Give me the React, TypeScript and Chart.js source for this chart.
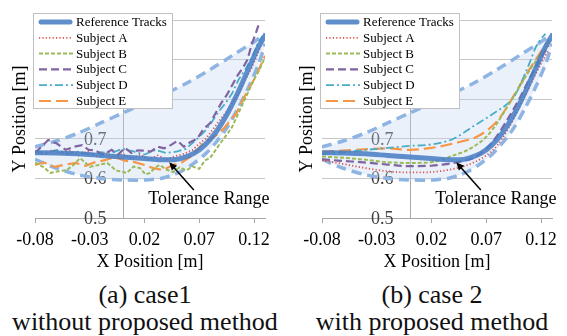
import React, { useEffect, useRef } from "react";
import { Chart, registerables } from "chart.js";

Chart.register(...registerables);

const FONT = '"Liberation Serif", "Times New Roman", serif';

// ---- axes ----
const X_MIN = -0.08;
const X_MAX = 0.13;
const Y_MIN = 0.5;
const Y_MAX = 1.0;
const X_TICKS = [-0.08, -0.03, 0.02, 0.07, 0.12];
const X_TICK_LABELS = ["-0.08", "-0.03", "0.02", "0.07", "0.12"];
const Y_TICKS = [0.5, 0.6, 0.7, 0.8, 0.9, 1.0];
const Y_TICK_LABELS = ["0.5", "0.6", "0.7", "0.8", "0.9", "1.0"];
const Y_AXIS_CROSS_X = 0;
const X_TITLE = "X Position [m]";
const Y_TITLE = "Y Position [m]";

// ---- reference track ----
const refX = [-0.08, -0.06, -0.04, -0.02, 0, 0.02, 0.035, 0.045, 0.055, 0.065, 0.075, 0.085, 0.095, 0.105, 0.115, 0.125, 0.13];
const refY = [0.665, 0.664, 0.662, 0.658, 0.654, 0.65, 0.647, 0.647, 0.652, 0.663, 0.684, 0.716, 0.76, 0.815, 0.877, 0.937, 0.96];

// ---- tolerance range ----
const tolUpperX = [-0.08, -0.06, -0.04, -0.02, 0, 0.02, 0.04, 0.06, 0.08, 0.1, 0.12, 0.13];
const tolUpperY = [0.68, 0.695, 0.715, 0.74, 0.765, 0.79, 0.815, 0.843, 0.875, 0.91, 0.945, 0.965];
const tolLowerX = [-0.08, -0.06, -0.04, -0.02, 0, 0.02, 0.035, 0.045, 0.055, 0.065, 0.075, 0.085, 0.095, 0.105, 0.115, 0.125, 0.13];
const tolLowerY = [0.648, 0.625, 0.609, 0.6, 0.596, 0.596, 0.6, 0.608, 0.62, 0.638, 0.66, 0.69, 0.727, 0.775, 0.83, 0.895, 0.94];

// ---- case 1 (without proposed method) ----
const c1AX = [-0.08, -0.072, -0.064, -0.056, -0.048, -0.04, -0.032, -0.024, -0.016, -0.008, 0, 0.008, 0.016, 0.024, 0.032, 0.04, 0.048, 0.056, 0.064, 0.07, 0.076, 0.082, 0.088, 0.094, 0.1, 0.106, 0.112, 0.118, 0.124, 0.128];
const c1AY = [0.668, 0.66, 0.672, 0.662, 0.67, 0.658, 0.668, 0.655, 0.665, 0.652, 0.662, 0.65, 0.66, 0.648, 0.658, 0.648, 0.656, 0.662, 0.672, 0.688, 0.7, 0.722, 0.745, 0.765, 0.79, 0.815, 0.85, 0.88, 0.92, 0.95];
const c1BX = [-0.08, -0.072, -0.066, -0.058, -0.051, -0.044, -0.039, -0.034, -0.03, -0.022, -0.014, -0.006, 0.004, 0.01, 0.016, 0.021, 0.025, 0.03, 0.034, 0.04, 0.046, 0.052, 0.058, 0.064, 0.07, 0.075, 0.08, 0.085, 0.09, 0.095, 0.1, 0.105, 0.11, 0.115, 0.12, 0.125, 0.129];
const c1BY = [0.64, 0.628, 0.614, 0.618, 0.621, 0.636, 0.651, 0.64, 0.629, 0.634, 0.639, 0.62, 0.614, 0.63, 0.626, 0.61, 0.614, 0.628, 0.634, 0.622, 0.616, 0.628, 0.62, 0.63, 0.624, 0.645, 0.652, 0.672, 0.692, 0.71, 0.73, 0.76, 0.79, 0.82, 0.85, 0.875, 0.9];
const c1CX = [-0.08, -0.074, -0.068, -0.06, -0.052, -0.044, -0.037, -0.031, -0.025, -0.018, -0.01, -0.004, 0.002, 0.008, 0.014, 0.02, 0.026, 0.032, 0.038, 0.044, 0.05, 0.056, 0.062, 0.068, 0.074, 0.08, 0.085, 0.09, 0.095, 0.1, 0.105, 0.11, 0.114, 0.118, 0.122, 0.125];
const c1CY = [0.665, 0.68, 0.697, 0.688, 0.672, 0.68, 0.684, 0.672, 0.671, 0.66, 0.672, 0.66, 0.677, 0.664, 0.671, 0.67, 0.668, 0.68, 0.676, 0.684, 0.695, 0.68, 0.692, 0.7, 0.725, 0.74, 0.765, 0.79, 0.81, 0.835, 0.86, 0.88, 0.9, 0.94, 0.97, 0.995];
const c1DX = [-0.08, -0.07, -0.06, -0.05, -0.04, -0.03, -0.02, -0.01, 0, 0.01, 0.02, 0.03, 0.04, 0.05, 0.058, 0.064, 0.07, 0.076, 0.082, 0.088, 0.094, 0.1, 0.106, 0.112, 0.118, 0.124, 0.128];
const c1DY = [0.668, 0.664, 0.672, 0.662, 0.668, 0.66, 0.666, 0.664, 0.675, 0.668, 0.66, 0.672, 0.664, 0.668, 0.675, 0.69, 0.705, 0.722, 0.745, 0.77, 0.79, 0.815, 0.85, 0.875, 0.905, 0.945, 0.96];
const c1EX = [-0.08, -0.072, -0.062, -0.054, -0.043, -0.034, -0.025, -0.016, -0.007, 0.002, 0.011, 0.02, 0.028, 0.037, 0.046, 0.054, 0.062, 0.068, 0.074, 0.08, 0.086, 0.092, 0.098, 0.104, 0.11, 0.116, 0.122, 0.126, 0.13];
const c1EY = [0.634, 0.64, 0.629, 0.634, 0.639, 0.632, 0.641, 0.646, 0.654, 0.645, 0.641, 0.634, 0.626, 0.621, 0.634, 0.64, 0.655, 0.672, 0.69, 0.7, 0.71, 0.725, 0.745, 0.765, 0.8, 0.83, 0.86, 0.885, 0.91];

// ---- case 2 (with proposed method) ----
const c2AX = [-0.08, -0.06, -0.04, -0.02, 0, 0.02, 0.03, 0.04, 0.05, 0.06, 0.07, 0.08, 0.09, 0.1, 0.11, 0.12, 0.127];
const c2AY = [0.646, 0.636, 0.626, 0.618, 0.615, 0.616, 0.619, 0.624, 0.631, 0.642, 0.658, 0.683, 0.725, 0.778, 0.835, 0.89, 0.925];
const c2BX = [-0.08, -0.06, -0.04, -0.02, 0, 0.02, 0.03, 0.04, 0.05, 0.06, 0.07, 0.08, 0.09, 0.1, 0.11, 0.12, 0.128];
const c2BY = [0.655, 0.652, 0.647, 0.641, 0.639, 0.641, 0.648, 0.658, 0.668, 0.683, 0.705, 0.74, 0.785, 0.83, 0.875, 0.915, 0.945];
const c2CX = [-0.08, -0.06, -0.04, -0.02, 0, 0.02, 0.03, 0.04, 0.05, 0.06, 0.07, 0.08, 0.09, 0.1, 0.11, 0.12, 0.127];
const c2CY = [0.648, 0.644, 0.64, 0.635, 0.631, 0.632, 0.635, 0.639, 0.645, 0.654, 0.675, 0.708, 0.752, 0.8, 0.855, 0.905, 0.935];
const c2DX = [-0.08, -0.06, -0.04, -0.02, 0, 0.02, 0.04, 0.06, 0.07, 0.08, 0.09, 0.095, 0.1, 0.105, 0.11, 0.115, 0.12, 0.124];
const c2DY = [0.662, 0.666, 0.672, 0.677, 0.682, 0.686, 0.7, 0.735, 0.752, 0.77, 0.79, 0.805, 0.83, 0.862, 0.895, 0.93, 0.952, 0.965];
const c2EX = [-0.08, -0.05, -0.02, 0, 0.02, 0.04, 0.05, 0.06, 0.07, 0.08, 0.09, 0.1, 0.11, 0.12, 0.128];
const c2EY = [0.667, 0.672, 0.676, 0.672, 0.677, 0.688, 0.695, 0.703, 0.72, 0.745, 0.785, 0.832, 0.878, 0.92, 0.95];

const SERIES_LABELS = ["Reference Tracks", "Subject A", "Subject B", "Subject C", "Subject D", "Subject E"];

// ---- annotation (data coordinates) ----
const ANNOT_TEXT = "Tolerance Range";
const ANNOT_TIP = { x: 0.0425, y: 0.641 };
const ANNOT_TAIL = { x: 0.065, y: 0.571 };
const ANNOT_LABEL = { x: 0.0235, y: 0.547 };

const CAPTIONS = [
  ["(a) case1", "without proposed method"],
  ["(b) case 2", "with proposed method"],
];

// ---- styles ----
const GRID_COLOR = "#c6c6c6";
const AXIS_COLOR = "#a8a8a8";
const REF_STYLE = { color: "rgba(74,126,196,0.88)", width: 5, dash: [] as number[] };
const SUBJECT_STYLES = [
  { color: "#d9534f", width: 1.8, dash: [1.2, 2.2] },
  { color: "#9bbb59", width: 2, dash: [4, 2] },
  { color: "#8064a2", width: 2.2, dash: [8, 4] },
  { color: "#4bacc6", width: 1.8, dash: [8, 3, 2, 3] },
  { color: "#f79646", width: 2.2, dash: [12, 5] },
];
const TOL_STYLE = { color: "#8db4e2", width: 3.5, dash: [10, 6] };
const TOL_FILL = "rgba(195,214,242,0.34)";

function pts(xs: number[], ys: number[]) {
  return xs.map((x, i) => ({ x, y: ys[i] }));
}

const overlayPlugin = {
  id: "overlay",
  beforeDatasetsDraw(chart: any) {
    const { ctx, chartArea: a, scales } = chart;
    const x0 = scales.x.getPixelForValue(Y_AXIS_CROSS_X);
    ctx.save();
    ctx.strokeStyle = AXIS_COLOR;
    ctx.lineWidth = 1;
    ctx.beginPath();
    ctx.moveTo(Math.round(x0) + 0.5, a.top);
    ctx.lineTo(Math.round(x0) + 0.5, a.bottom);
    ctx.stroke();
    ctx.font = `18px ${FONT}`;
    ctx.fillStyle = "#404040";
    ctx.textAlign = "right";
    ctx.textBaseline = "middle";
    Y_TICKS.forEach((v, i) => {
      ctx.fillText(Y_TICK_LABELS[i], x0 - 16, scales.y.getPixelForValue(v) + 1);
    });
    ctx.restore();
  },
  afterDatasetsDraw(chart: any) {
    const { ctx, scales } = chart;
    const xs = scales.x;
    const ys = scales.y;
    const tx = xs.getPixelForValue(ANNOT_TAIL.x);
    const ty = ys.getPixelForValue(ANNOT_TAIL.y);
    const hx = xs.getPixelForValue(ANNOT_TIP.x);
    const hy = ys.getPixelForValue(ANNOT_TIP.y);
    const ang = Math.atan2(hy - ty, hx - tx);
    const headLen = 8;
    const headW = 3.5;
    ctx.save();
    ctx.strokeStyle = "#000";
    ctx.fillStyle = "#000";
    ctx.lineWidth = 1.5;
    ctx.beginPath();
    ctx.moveTo(tx, ty);
    ctx.lineTo(hx - Math.cos(ang) * headLen * 0.8, hy - Math.sin(ang) * headLen * 0.8);
    ctx.stroke();
    ctx.beginPath();
    ctx.moveTo(hx, hy);
    ctx.lineTo(hx - Math.cos(ang) * headLen - Math.sin(ang) * headW, hy - Math.sin(ang) * headLen + Math.cos(ang) * headW);
    ctx.lineTo(hx - Math.cos(ang) * headLen + Math.sin(ang) * headW, hy - Math.sin(ang) * headLen - Math.cos(ang) * headW);
    ctx.closePath();
    ctx.fill();
    ctx.font = `18px ${FONT}`;
    ctx.textAlign = "left";
    ctx.textBaseline = "middle";
    ctx.fillText(ANNOT_TEXT, xs.getPixelForValue(ANNOT_LABEL.x), ys.getPixelForValue(ANNOT_LABEL.y));
    ctx.restore();
  },
  afterDraw(chart: any) {
    const { ctx, chartArea: a } = chart;
    const bx = Math.round(a.left) - 2;
    const by = Math.round(a.top) - 7;
    const bw = 139;
    const bh = 95;
    ctx.save();
    ctx.fillStyle = "#ffffff";
    ctx.fillRect(bx, by, bw, bh);
    ctx.strokeStyle = "#c0c0c0";
    ctx.lineWidth = 1;
    ctx.strokeRect(bx + 0.5, by + 0.5, bw, bh);
    const sets = chart.data.datasets.slice(0, SERIES_LABELS.length);
    sets.forEach((ds: any, i: number) => {
      const y = by + 9 + i * 15.8;
      ctx.beginPath();
      ctx.setLineDash(ds.borderDash || []);
      ctx.lineWidth = ds.borderWidth;
      ctx.strokeStyle = ds.borderColor;
      ctx.lineCap = i === 0 ? "round" : "butt";
      ctx.moveTo(bx + (i === 0 ? 8 : 6), y);
      ctx.lineTo(bx + (i === 0 ? 37 : 40), y);
      ctx.stroke();
      ctx.setLineDash([]);
      ctx.fillStyle = "#000";
      ctx.font = `13px ${FONT}`;
      ctx.textAlign = "left";
      ctx.textBaseline = "middle";
      ctx.fillText(ds.label, bx + 43, y + 0.5);
    });
    ctx.restore();
  },
};

function buildConfig(subjects: { x: number[]; y: number[] }[], smooth: boolean): any {
  const polyX = [...tolUpperX, ...tolLowerX.slice().reverse()];
  const polyY = [...tolUpperY, ...tolLowerY.slice().reverse()];
  const datasets: any[] = [
    {
      label: SERIES_LABELS[0],
      data: pts(refX, refY),
      borderColor: REF_STYLE.color,
      borderWidth: REF_STYLE.width,
      borderDash: REF_STYLE.dash,
      borderCapStyle: "round",
      tension: 0.4,
      cubicInterpolationMode: "monotone",
    },
    ...subjects.map((s, i) => ({
      label: SERIES_LABELS[i + 1],
      data: pts(s.x, s.y),
      borderColor: SUBJECT_STYLES[i].color,
      borderWidth: SUBJECT_STYLES[i].width,
      borderDash: SUBJECT_STYLES[i].dash,
      tension: smooth ? 0.4 : 0,
      cubicInterpolationMode: smooth ? "monotone" : "default",
    })),
    {
      label: "Tolerance upper",
      data: pts(tolUpperX, tolUpperY),
      borderColor: TOL_STYLE.color,
      borderWidth: TOL_STYLE.width,
      borderDash: TOL_STYLE.dash,
      tension: 0.3,
    },
    {
      label: "Tolerance lower",
      data: pts(tolLowerX, tolLowerY),
      borderColor: TOL_STYLE.color,
      borderWidth: TOL_STYLE.width,
      borderDash: TOL_STYLE.dash,
      tension: 0.3,
    },
    {
      label: "Tolerance region",
      data: pts(polyX, polyY),
      borderColor: "rgba(0,0,0,0)",
      borderWidth: 0,
      backgroundColor: TOL_FILL,
      fill: "shape",
      tension: 0.3,
    },
  ];
  datasets.forEach((d) => {
    d.showLine = true;
    d.pointRadius = 0;
    d.pointHoverRadius = 0;
    if (d.fill === undefined) d.fill = false;
  });
  const tickFont = { family: FONT, size: 18 };
  return {
    type: "scatter",
    data: { datasets },
    options: {
      responsive: false,
      maintainAspectRatio: false,
      animation: false,
      events: [],
      layout: { padding: { top: 20, right: 15, left: 0, bottom: 0 } },
      plugins: { legend: { display: false }, tooltip: { enabled: false } },
      scales: {
        x: {
          type: "linear",
          min: X_MIN,
          max: X_MAX,
          afterBuildTicks: (s: any) => {
            s.ticks = X_TICKS.map((v) => ({ value: v }));
          },
          afterFit: (s: any) => {
            s.height = 59;
          },
          ticks: {
            callback: (_v: any, i: number) => X_TICK_LABELS[i],
            font: tickFont,
            color: "#000",
            padding: 6,
            maxRotation: 0,
            autoSkip: false,
          },
          grid: {
            drawOnChartArea: false,
            drawTicks: true,
            tickLength: 5,
            color: (c: any) => (c.tick && c.tick.value === X_TICKS[1] ? "rgba(0,0,0,0)" : AXIS_COLOR),
          },
          border: { display: true, color: AXIS_COLOR },
          title: {
            display: true,
            text: X_TITLE,
            font: tickFont,
            color: "#000",
            padding: { top: 4, bottom: 4 },
          },
        },
        y: {
          type: "linear",
          position: "left",
          min: Y_MIN,
          max: Y_MAX,
          afterBuildTicks: (s: any) => {
            s.ticks = Y_TICKS.map((v) => ({ value: v }));
          },
          afterFit: (s: any) => {
            s.width = 35;
          },
          ticks: { display: false },
          grid: { color: GRID_COLOR, drawTicks: false },
          border: { display: false },
          title: {
            display: true,
            text: Y_TITLE,
            font: tickFont,
            color: "#000",
            padding: { top: 9, bottom: 0 },
          },
        },
      },
    },
    plugins: [overlayPlugin],
  };
}

function Panel({ subjects, smooth, left }: { subjects: { x: number[]; y: number[] }[]; smooth: boolean; left: number }) {
  const ref = useRef<HTMLCanvasElement | null>(null);
  useEffect(() => {
    if (!ref.current) return;
    const chart = new Chart(ref.current, buildConfig(subjects, smooth));
    return () => chart.destroy();
  }, [subjects, smooth]);
  return (
    <canvas
      ref={ref}
      width={280}
      height={277}
      style={{ position: "absolute", left, top: 0, width: 280, height: 277 }}
    />
  );
}

const CASE1 = [
  { x: c1AX, y: c1AY },
  { x: c1BX, y: c1BY },
  { x: c1CX, y: c1CY },
  { x: c1DX, y: c1DY },
  { x: c1EX, y: c1EY },
];
const CASE2 = [
  { x: c2AX, y: c2AY },
  { x: c2BX, y: c2BY },
  { x: c2CX, y: c2CY },
  { x: c2DX, y: c2DY },
  { x: c2EX, y: c2EY },
];

export default function App() {
  const capStyle = (left: number): React.CSSProperties => ({
    position: "absolute",
    left,
    top: 281,
    width: 290,
    textAlign: "center",
    fontFamily: FONT,
    fontSize: 26,
    lineHeight: "27px",
    color: "#111",
    whiteSpace: "nowrap",
  });
  return (
    <div style={{ position: "absolute", left: 0, top: 0, width: 567, height: 336, background: "#fff", overflow: "hidden" }}>
      <Panel subjects={CASE1} smooth={false} left={0} />
      <Panel subjects={CASE2} smooth={true} left={287} />
      <div style={capStyle(0)}>
        <div>{CAPTIONS[0][0]}</div>
        <div>{CAPTIONS[0][1]}</div>
      </div>
      <div style={capStyle(287)}>
        <div>{CAPTIONS[1][0]}</div>
        <div>{CAPTIONS[1][1]}</div>
      </div>
    </div>
  );
}
